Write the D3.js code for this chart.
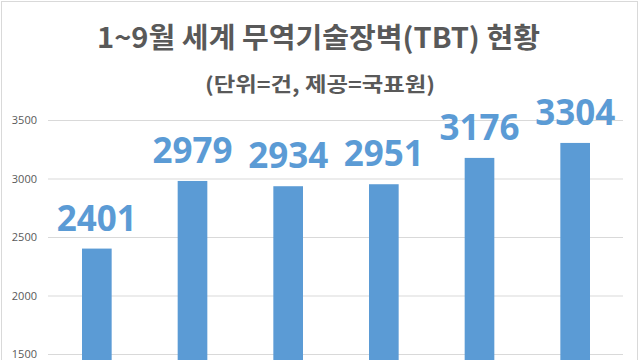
<!DOCTYPE html>
<html>
<head>
<meta charset="utf-8">
<script src="https://cdn.jsdelivr.net/npm/d3@7/dist/d3.min.js"></script>
<style>
html,body{margin:0;padding:0;background:#fff;}
svg{display:block;}
</style>
</head>
<body>
<svg id="chart" width="640" height="360"></svg>
<script>
const titleText = "1~9월 세계 무역기술장벽(TBT) 현황";
const subtitleText = "(단위=건, 제공=국표원)";
const categories = ["c1", "c2", "c3", "c4", "c5", "c6"]; // category labels are cut off in the reference
const values = [2401, 2979, 2934, 2951, 3176, 3304];
const yTicks = [1500, 2000, 2500, 3000, 3500];

const W = 640, H = 360;
const svg = d3.select("#chart");

// chart border
svg.append("rect").attr("x", 1.5).attr("y", 1.5).attr("width", 636).attr("height", H + 10)
  .attr("fill", "#fff").attr("stroke", "#d9d9d9").attr("stroke-width", 1);

const x = d3.scaleBand().domain(categories).range([49, 623]).paddingInner(0.69).paddingOuter(0.345);
const y = d3.scaleLinear().domain([1500, 3500]).range([354, 120]);

// gridlines
const yAxis = d3.axisLeft(y).tickValues(yTicks).tickSize(-(623 - 48)).tickPadding(11).tickFormat(d3.format("d"));
const gAxis = svg.append("g").attr("transform", "translate(48,0)").call(yAxis);
gAxis.select(".domain").remove();
gAxis.selectAll(".tick line").attr("stroke", "#d9d9d9").attr("stroke-width", 1);
gAxis.selectAll(".tick text").attr("fill", "#595959")
  .style("font-family", "'Open Sans', 'Noto Sans', sans-serif").style("font-size", "11px");

// bars
svg.append("g").selectAll("rect").data(values).join("rect")
  .attr("x", (d, i) => x(categories[i]))
  .attr("y", d => y(d))
  .attr("width", x.bandwidth())
  .attr("height", d => H + 5 - y(d))
  .attr("fill", "#5b9bd5");

// value labels
svg.append("g").selectAll("text").data(values).join("text")
  .attr("x", (d, i) => x(categories[i]) + x.bandwidth() / 2)
  .attr("y", d => y(d) - 18)
  .attr("text-anchor", "middle")
  .attr("fill", "#5b9bd5")
  .style("font-family", "'Open Sans', 'Noto Sans', sans-serif")
  .style("font-weight", "700")
  .style("font-size", "35px")
  .text(d => d);

// title
svg.append("text").attr("x", 318.5).attr("y", 48).attr("text-anchor", "middle")
  .attr("fill", "#595959")
  .attr("textLength", 443).attr("lengthAdjust", "spacingAndGlyphs")
  .style("font-family", "'Noto Sans CJK KR', sans-serif").style("font-weight", "700").style("font-size", "28px")
  .text(titleText);

svg.append("text").attr("x", 320).attr("y", 92).attr("text-anchor", "middle")
  .attr("fill", "#595959")
  .attr("textLength", 230).attr("lengthAdjust", "spacingAndGlyphs")
  .style("font-family", "'Noto Sans CJK KR', sans-serif").style("font-weight", "700").style("font-size", "20px")
  .text(subtitleText);
</script>
</body>
</html>
